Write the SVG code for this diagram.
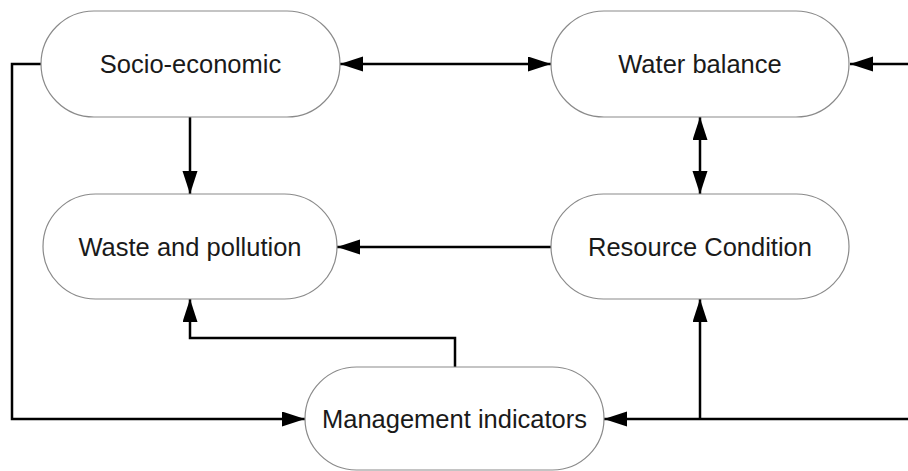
<svg xmlns="http://www.w3.org/2000/svg" width="908" height="471" viewBox="0 0 908 471">
  <style>
    .node rect { fill: #ffffff; stroke: #8a8a8a; stroke-width: 1.2; }
    .node text { font-family: "Liberation Sans", Arial, sans-serif; font-size: 25.5px; fill: #1a1a1a; text-anchor: middle; }
    .edge { fill: none; stroke: #000000; stroke-width: 2.5; }
  </style>
  <defs>
    <marker id="arrow" markerUnits="userSpaceOnUse" markerWidth="24" markerHeight="16" refX="23" refY="7.5" orient="auto-start-reverse">
      <path d="M0,0 L23,7.5 L0,15 z" fill="#000000"/>
    </marker>
  </defs>

  <rect width="908" height="471" fill="#ffffff"/>

  <g id="connectors">
    <path class="edge" d="M340,64 H551" marker-start="url(#arrow)" marker-end="url(#arrow)"/>
    <path class="edge" d="M908,64 H850" marker-end="url(#arrow)"/>
    <path class="edge" d="M190,117 V194" marker-end="url(#arrow)"/>
    <path class="edge" d="M700,117 V194" marker-start="url(#arrow)" marker-end="url(#arrow)"/>
    <path class="edge" d="M551,247 H337" marker-end="url(#arrow)"/>
    <path class="edge" d="M455,367 V338 H190 V299" marker-end="url(#arrow)"/>
    <path class="edge" d="M41,64 H12 V419 H305" marker-end="url(#arrow)"/>
    <path class="edge" d="M908,419 H604" marker-end="url(#arrow)"/>
    <path class="edge" d="M700,419 V299" marker-end="url(#arrow)"/>
  </g>

  <g id="socio-economic" class="node">
    <rect x="41" y="11" width="299" height="106" rx="53" ry="53"/>
    <text x="190.5" y="73">Socio-economic</text>
  </g>

  <g id="water-balance" class="node">
    <rect x="551" y="11" width="298" height="106" rx="53" ry="53"/>
    <text x="700" y="73">Water balance</text>
  </g>

  <g id="waste-and-pollution" class="node">
    <rect x="43" y="194" width="294" height="105" rx="52.5" ry="52.5"/>
    <text x="190" y="256">Waste and pollution</text>
  </g>

  <g id="resource-condition" class="node">
    <rect x="551" y="194" width="298" height="105" rx="52.5" ry="52.5"/>
    <text x="700" y="256">Resource Condition</text>
  </g>

  <g id="management-indicators" class="node">
    <rect x="305" y="367" width="299" height="103" rx="51.5" ry="51.5"/>
    <text x="454.5" y="428">Management indicators</text>
  </g>
</svg>
